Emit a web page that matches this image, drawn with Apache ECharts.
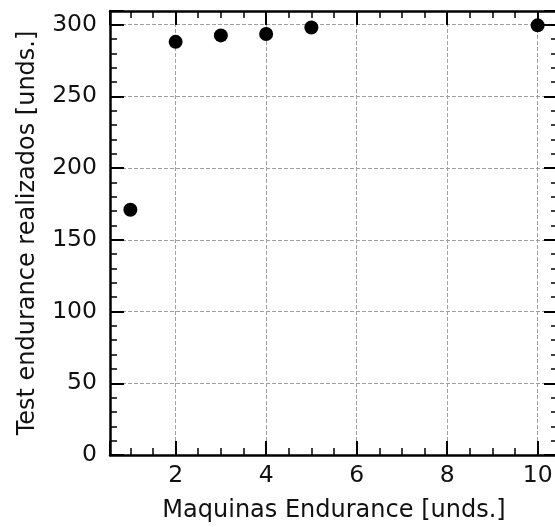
<!DOCTYPE html>
<html>
<head>
<meta charset="utf-8">
<script src="https://cdn.jsdelivr.net/npm/echarts@6/dist/echarts.min.js"></script>
<style>
html,body{margin:0;padding:0;background:#fff;}
#chart{width:555px;height:527px;}
</style>
</head>
<body>
<div id="chart"></div>
<script>
// Data
const maquinas = [1, 2, 3, 4, 5, 10];
const tests = [171, 288, 292.5, 293.5, 298, 299.5];
const xTitle = 'Maquinas Endurance [unds.]';
const yTitle = 'Test endurance realizados [unds.]';
const xRange = [0.55, 10.45];
const yRange = [0, 309.5];
const yStep = 50;

const FONT = 'DejaVu Sans';
const TXT = '#111';
const points = maquinas.map((x, i) => [x, tests[i]]);

function xAx(pos, labels) {
  return {
    type: 'value', position: pos, min: xRange[0], max: xRange[1], splitNumber: 5,
    axisLine: { show: true, onZero: false, lineStyle: { color: '#000', width: 2.5 } },
    axisTick: { show: true, inside: true, length: 14, lineStyle: { color: '#000', width: 2 } },
    minorTick: { show: true, splitNumber: 4, length: 7, lineStyle: { color: '#000', width: 1.5 } },
    axisLabel: { show: labels, showMinLabel: false, showMaxLabel: false, color: TXT, fontFamily: FONT, fontSize: 23.5, margin: 9 },
    splitLine: { show: labels, lineStyle: { color: '#a0a0a0', width: 1, type: [4, 2] } },
    name: labels ? xTitle : '', nameLocation: 'middle', nameGap: 44,
    nameTextStyle: { color: TXT, fontFamily: FONT, fontSize: 24 }
  };
}
function yAx(pos, labels) {
  return {
    type: 'value', position: pos, min: yRange[0], max: yRange[1], interval: yStep,
    axisLine: { show: true, onZero: false, lineStyle: { color: '#000', width: 2.5 } },
    axisTick: { show: true, inside: true, length: 14, lineStyle: { color: '#000', width: 2 } },
    minorTick: { show: true, splitNumber: 5, length: 7, lineStyle: { color: '#000', width: 1.5 } },
    axisLabel: { show: labels, showMaxLabel: false, color: TXT, fontFamily: FONT, fontSize: 23.5, margin: 13 },
    splitLine: { show: labels, lineStyle: { color: '#a0a0a0', width: 1, type: [4, 2] } },
    name: labels ? yTitle : '', nameLocation: 'middle', nameGap: 70, nameRotate: 90,
    nameTextStyle: { color: TXT, fontFamily: FONT, fontSize: 24 }
  };
}

const chart = echarts.init(document.getElementById('chart'), null, { renderer: 'canvas' });
chart.setOption({
  animation: false,
  backgroundColor: '#fff',
  grid: { left: 110, top: 11, right: -3, bottom: 72, containLabel: false, outerBoundsMode: 'none' },
  xAxis: [xAx('bottom', true), xAx('top', false)],
  yAxis: [yAx('left', true), yAx('right', false)],
  series: [{
    type: 'scatter', xAxisIndex: 0, yAxisIndex: 0, data: points,
    symbol: 'circle', symbolSize: 14, itemStyle: { color: '#000', opacity: 1 }, z: 5
  }]
});
</script>
</body>
</html>
